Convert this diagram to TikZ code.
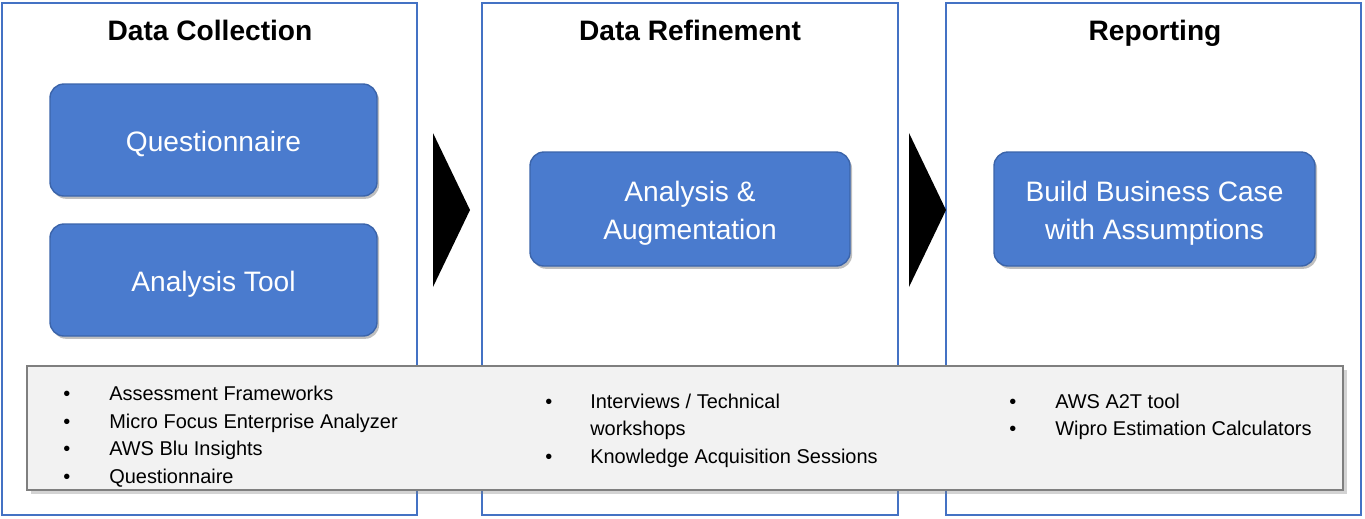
\documentclass[tikz,border=0pt]{standalone}
\usepackage{fontspec}
\setmainfont{Liberation Sans}
\usepackage{xcolor}
\usetikzlibrary{shapes,shadows,positioning}
\definecolor{panelblue}{HTML}{4472C4}
\definecolor{boxblue}{HTML}{4A7BCE}
\definecolor{boxedge}{HTML}{3B64AA}
\definecolor{notegray}{HTML}{F2F2F2}
\definecolor{noteedge}{HTML}{7F7F7F}
\newcommand{\boxline}[1]{\raisebox{-3pt}[\height][\depth]{#1}}
\tikzstyle{panel}=[rectangle, draw=panelblue, line width=1.2pt, minimum height=12.8cm]
\tikzstyle{title}=[anchor=base, font=\fontsize{20}{24}\selectfont\bfseries]
\tikzstyle{box1}=[rectangle, fill=boxblue, draw=boxedge, line width=1pt, rounded corners=0.35cm, text=white, align=center, font=\fontsize{20}{27.7}\selectfont, drop shadow={shadow xshift=1.5pt, shadow yshift=-2pt, opacity=.5}]
\tikzstyle{notes}=[rectangle, fill=notegray, draw=noteedge, line width=2pt, minimum width=32.9cm, minimum height=3.1cm, drop shadow={shadow xshift=3pt, shadow yshift=-3pt, opacity=.35}]
\tikzstyle{list}=[anchor=west, inner sep=0pt, font=\fontsize{14.2}{19.5}\selectfont]
\tikzstyle{arrow1}=[isosceles triangle, isosceles triangle stretches, fill=black, inner sep=0pt, outer sep=0pt, minimum width=3.85cm, minimum height=0.925cm, anchor=apex]

\begin{document}
\begin{tikzpicture}
\useasboundingbox (0,0) rectangle (34.125,-12.95);
%Panels
\node[panel, minimum width=10.375cm](pcol) at (5.2375,-6.475){};
\node[panel, minimum width=10.4cm](pref) at (17.25,-6.475){};
\node[panel, minimum width=10.375cm](prep) at (28.8375,-6.475){};
%Titles
\node[title](tcol) at (5.25,-1){Data Collection};
\node[title](tref) at (17.25,-1){Data Refinement};
\node[title](trep) at (28.875,-1){Reporting};
%Boxes
\node[box1, minimum width=8.175cm, minimum height=2.8cm](quest) at (5.3375,-3.5){\boxline{Questionnaire}};
\node[box1, minimum width=8.175cm, minimum height=2.8cm](tool) at (5.3375,-7){\boxline{Analysis Tool}};
\node[box1, minimum width=8cm, minimum height=2.85cm](augm) at (17.25,-5.225){\boxline{Analysis \&}\\\boxline{Augmentation}};
\node[box1, minimum width=8.025cm, minimum height=2.85cm](bcase) at (28.8625,-5.225){\boxline{Build Business Case}\\\boxline{with Assumptions}};
%Arrows
\node[arrow1](ar1) at (11.75,-5.25){};
\node[arrow1](ar2) at (23.65,-5.25){};
%Notes
\node[notes](notes) at (17.125,-10.7){};
\node[list](lcol) at (1.575,-10.91){\begin{tabular}{@{}p{1.15cm}@{}l@{}}
• & Assessment Frameworks\\
• & Micro Focus Enterprise Analyzer\\
• & AWS Blu Insights\\
• & Questionnaire
\end{tabular}};
\node[list](lref) at (13.625,-10.76){\begin{tabular}{@{}p{1.125cm}@{}l@{}}
• & Interviews / Technical\\
 & workshops\\
• & Knowledge Acquisition Sessions
\end{tabular}};
\node[list](lrep) at (25.225,-10.41){\begin{tabular}{@{}p{1.15cm}@{}l@{}}
• & AWS A2T tool\\
• & Wipro Estimation Calculators
\end{tabular}};
\end{tikzpicture}
\end{document}
